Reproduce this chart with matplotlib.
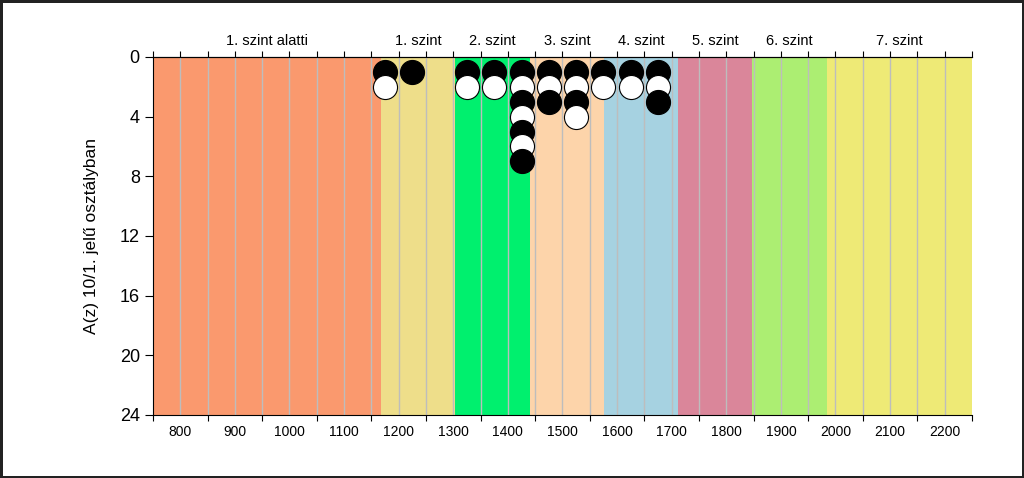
import matplotlib

matplotlib.use("Agg")
import matplotlib.pyplot as plt
import numpy as np

plt.rcParams["font.family"] = ["Liberation Sans", "DejaVu Sans"]

# Szint-határok (képességpont) és színek
level_edges = [750, 1168, 1304, 1440, 1576, 1712, 1848, 1984, 2250]
level_names = ["1. szint alatti", "1. szint", "2. szint", "3. szint",
               "4. szint", "5. szint", "6. szint", "7. szint"]
level_colors = ["#FA996E", "#EEDE8A", "#00F06E", "#FDD4AA",
                "#A6D2E1", "#DA869A", "#ACEE72", "#EEEA76"]

# Tanulók száma 50 pontos sávonként (sávközép)
bin_centers = [1175, 1225, 1325, 1375, 1425, 1475, 1525, 1575, 1625, 1675]
counts = [2, 1, 2, 2, 7, 3, 4, 2, 2, 3]

x_labels = list(range(800, 2201, 100))
y_ticks = [0, 4, 8, 12, 16, 20, 24]

fig = plt.figure(figsize=(10.24, 4.78), dpi=100)
fig.patch.set_edgecolor("#222222")
fig.patch.set_linewidth(2.5)
ax = fig.add_axes([0.1494, 0.1318, 0.7998, 0.749])

for i, name in enumerate(level_names):
    ax.axvspan(level_edges[i], level_edges[i + 1], color=level_colors[i], lw=0, zorder=0)

for gx in np.arange(800, 2250, 50):
    ax.axvline(gx, color="#BDBDBD", lw=1.0, zorder=1)

for xc, n in zip(bin_centers, counts):
    for k in range(n):
        face = "black" if k % 2 == 0 else "white"
        ax.scatter([xc], [k + 1], s=300, facecolor=face, edgecolor="black",
                   linewidth=0.8, zorder=3 + k)

ax.set_xlim(level_edges[0], level_edges[-1])
ax.set_ylim(24, 0)
ax.set_yticks(y_ticks)
ax.tick_params(axis="y", labelsize=13, length=6, direction="out")
ax.set_ylabel("A(z) 10/1. jelű osztályban", fontsize=12.5, labelpad=15)

# alsó tengely: osztásvonal a félszázasoknál, felirat a százasoknál
ax.set_xticks(np.arange(750, 2251, 100))
ax.set_xticklabels([])
ax.set_xticks(x_labels, minor=True)
ax.set_xticklabels([str(v) for v in x_labels], minor=True, fontsize=10)
ax.tick_params(axis="x", which="major", length=4, direction="out")
ax.tick_params(axis="x", which="minor", length=0, pad=7)

# felső tengely: szintnevek
top = ax.secondary_xaxis("top")
top.set_xticks(np.arange(750, 2251, 50))
top.set_xticklabels([])
top.tick_params(length=4, direction="out")
for i, name in enumerate(level_names):
    ax.text((level_edges[i] + level_edges[i + 1]) / 2, -0.6, name,
            ha="center", va="bottom", fontsize=10.5)

ax.spines["right"].set_visible(False)
for sp in ("left", "bottom", "top"):
    ax.spines[sp].set_color("black")
top.spines["top"].set_color("black")

fig.savefig("out.png", dpi=100)
